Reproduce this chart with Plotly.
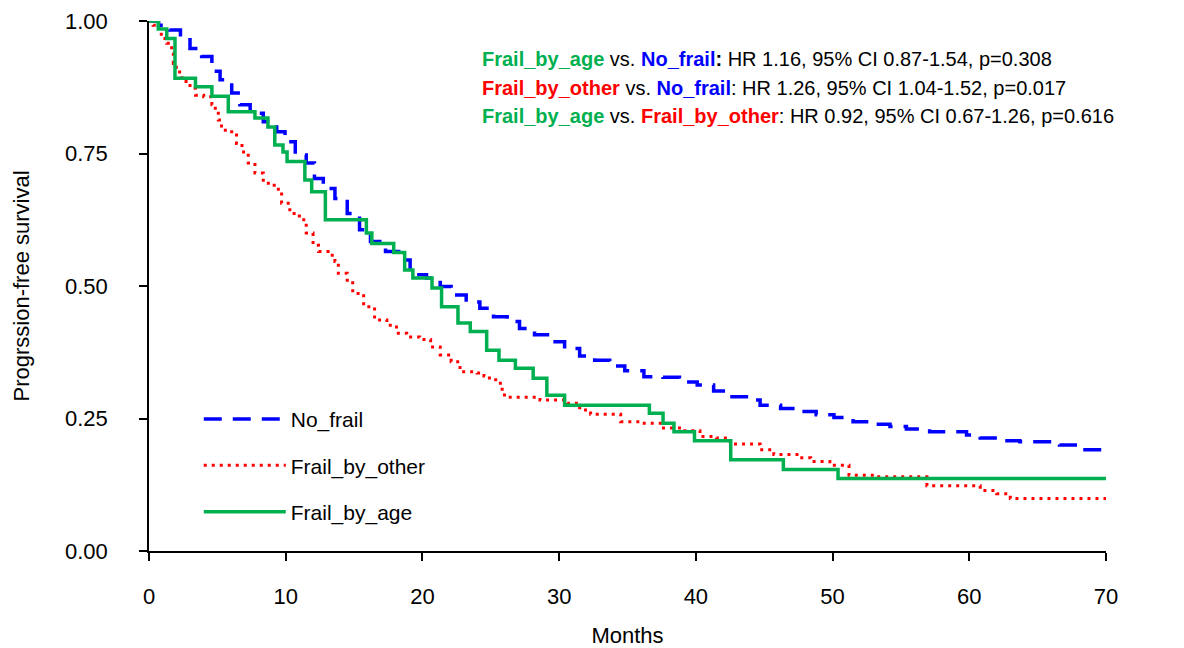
import plotly.graph_objects as go

# ---- data ----
no_frail_t = [0, 0.7, 1.5, 2.3, 3.0, 3.85, 4.6, 5.2, 6.05, 6.65, 7.4, 8.36, 9.34, 9.95, 10.7, 11.5,
              12.1, 12.75, 13.6, 14.5, 15.4, 16.2, 17.3, 18.4, 19.1, 20.3, 21.3, 22.1, 23.2, 24.2,
              25.2, 26.2, 27.1, 28.2, 29.3, 30.4, 31.5, 32.6, 33.7, 34.8, 36.2, 37.6, 38.8, 40.1,
              41.3, 42.4, 43.7, 44.7, 46.2, 47.4, 48.8, 50.1, 51.5, 52.7, 54.2, 55.4, 57.1, 59.8,
              60.8, 62.3, 63.7, 66.6, 68.1, 70]
no_frail_s = [1, 0.992, 0.983, 0.97, 0.948, 0.933, 0.905, 0.889, 0.864, 0.842, 0.826, 0.81, 0.791,
              0.772, 0.747, 0.732, 0.703, 0.684, 0.665, 0.637, 0.606, 0.584, 0.565, 0.549, 0.521,
              0.515, 0.499, 0.483, 0.47, 0.458, 0.442, 0.433, 0.42, 0.408, 0.395, 0.382, 0.368,
              0.36, 0.349, 0.34, 0.329, 0.328, 0.319, 0.313, 0.302, 0.291, 0.285, 0.275, 0.269,
              0.263, 0.257, 0.252, 0.244, 0.239, 0.235, 0.23, 0.225, 0.219, 0.213, 0.208, 0.206,
              0.2, 0.191, 0.189]

other_t = [0, 0.3, 0.55, 0.9, 1.3, 1.66, 1.78, 2.0, 2.4, 3.0, 3.4, 4.0, 4.6, 4.85, 5.07, 5.3, 6.05,
           6.4, 6.8, 7.26, 7.75, 8.36, 8.97, 9.46, 9.7, 10.3, 11.0, 11.5, 12.0, 12.4, 13.1, 13.6,
           13.85, 14.5, 14.9, 15.7, 16.5, 17.4, 18.1, 18.85, 19.8, 20.6, 21.3, 22.1, 22.75, 24.0,
           24.5, 24.9, 25.7, 26.0, 28.6, 30.6, 31.5, 32.3, 34.5, 35.9, 37.4, 38.8, 40.3, 41.5,
           42.5, 44.7, 45.7, 47.6, 48.4, 49.8, 51.2, 53.2, 56.9, 60.8, 62.0, 63.0, 70]
other_s = [1, 0.992, 0.986, 0.967, 0.958, 0.939, 0.92, 0.904, 0.886, 0.873, 0.86, 0.857, 0.842,
           0.832, 0.813, 0.794, 0.785, 0.769, 0.753, 0.732, 0.713, 0.694, 0.69, 0.678, 0.656,
           0.637, 0.625, 0.6, 0.577, 0.565, 0.558, 0.546, 0.524, 0.511, 0.486, 0.461, 0.436,
           0.426, 0.411, 0.404, 0.399, 0.385, 0.37, 0.357, 0.338, 0.336, 0.33, 0.323, 0.305,
           0.29, 0.285, 0.279, 0.266, 0.258, 0.244, 0.241, 0.232, 0.227, 0.216, 0.213, 0.202,
           0.191, 0.182, 0.176, 0.169, 0.162, 0.143, 0.14, 0.123, 0.114, 0.108, 0.099, 0.099]

age_t = [0, 0.68, 1.3, 1.9, 3.4, 4.6, 5.8, 7.75, 8.7, 9.2, 9.8, 10.1, 11.4, 11.9, 12.9, 15.9, 16.3,
         17.9, 18.7, 19.3, 20.7, 21.4, 22.6, 23.5, 24.7, 25.6, 26.8, 28.1, 29.1, 30.4, 36.6, 37.6,
         38.4, 39.9, 42.55, 46.4, 50.4, 70]
age_s = [1, 0.985, 0.967, 0.892, 0.876, 0.858, 0.829, 0.817, 0.80, 0.766, 0.753, 0.735, 0.70,
         0.678, 0.625, 0.60, 0.58, 0.563, 0.53, 0.515, 0.496, 0.461, 0.43, 0.414, 0.379, 0.36,
         0.345, 0.326, 0.294, 0.275, 0.26, 0.241, 0.225, 0.208, 0.172, 0.154, 0.137, 0.137]

x_ticks = [0, 10, 20, 30, 40, 50, 60, 70]
y_ticks = [0, 0.25, 0.5, 0.75, 1.0]
y_tick_text = ["0.00", "0.25", "0.50", "0.75", "1.00"]

GREEN = "#00B050"
BLUE = "#0000FF"
RED = "#FF0000"
FONT = "Liberation Sans, Arial, sans-serif"

fig = go.Figure()
fig.add_trace(go.Scatter(x=no_frail_t, y=no_frail_s, mode="lines", name="No_frail",
                         line=dict(color=BLUE, width=3.5, dash="18px,11px", shape="hv"),
                         legendgroup="a"))
fig.add_trace(go.Scatter(x=other_t, y=other_s, mode="lines", name="Frail_by_other",
                         line=dict(color=RED, width=3, dash="3px,5px", shape="hv"),
                         legendgroup="b"))
fig.add_trace(go.Scatter(x=age_t, y=age_s, mode="lines", name="Frail_by_age",
                         line=dict(color=GREEN, width=3.5, shape="hv"),
                         legendgroup="c"))

def b(txt, col):
    return f"<b><span style='color:{col}'>{txt}</span></b>"

lines = [
    b("Frail_by_age", GREEN) + " vs. " + b("No_frail", BLUE) + "<b>:</b> HR 1.16, 95% CI 0.87-1.54, p=0.308",
    b("Frail_by_other", RED) + " vs. " + b("No_frail", BLUE) + ": HR 1.26, 95% CI 1.04-1.52, p=0.017",
    b("Frail_by_age", GREEN) + " vs. " + b("Frail_by_other", RED) + ": HR 0.92, 95% CI 0.67-1.26, p=0.616",
]
line_y = [0.928, 0.874, 0.821]
for txt, yy in zip(lines, line_y):
    fig.add_annotation(x=24.2, y=yy, xref="x", yref="y", text=txt, showarrow=False,
                       xanchor="left", yanchor="middle",
                       font=dict(family=FONT, size=20, color="#000000"))

fig.update_layout(
    width=1184, height=648,
    margin=dict(l=149, r=78, t=21, b=97),
    paper_bgcolor="white", plot_bgcolor="white",
    font=dict(family=FONT, size=22, color="#000000"),
    legend=dict(x=0.052, y=0.287, xanchor="left", yanchor="top",
                traceorder="grouped", tracegroupgap=16, itemwidth=82,
                font=dict(family=FONT, size=21, color="#000000"),
                bgcolor="rgba(0,0,0,0)"),
    showlegend=True,
)
fig.update_xaxes(range=[0, 70], tickvals=x_ticks, ticks="outside", ticklen=8, tickwidth=1.5,
                 tickcolor="black", showline=True, linecolor="black", linewidth=1.5,
                 showgrid=False, zeroline=False, ticklabelstandoff=17, automargin=False,
                 title=dict(text="Months", standoff=19, font=dict(size=22)),
                 tickfont=dict(size=22))
fig.update_yaxes(range=[0, 1], tickvals=y_ticks, ticktext=y_tick_text, ticks="outside",
                 ticklen=8, tickwidth=1.5, tickcolor="black", showline=True, linecolor="black",
                 linewidth=1.5, showgrid=False, zeroline=False, ticklabelstandoff=27,
                 automargin=False,
                 title=dict(text="Progrssion-free survival", standoff=29, font=dict(size=22)),
                 tickfont=dict(size=22))

fig.write_html("out.html", config={"displayModeBar": False},
               post_script="document.body.style.margin='0';document.body.style.overflow='hidden';")
